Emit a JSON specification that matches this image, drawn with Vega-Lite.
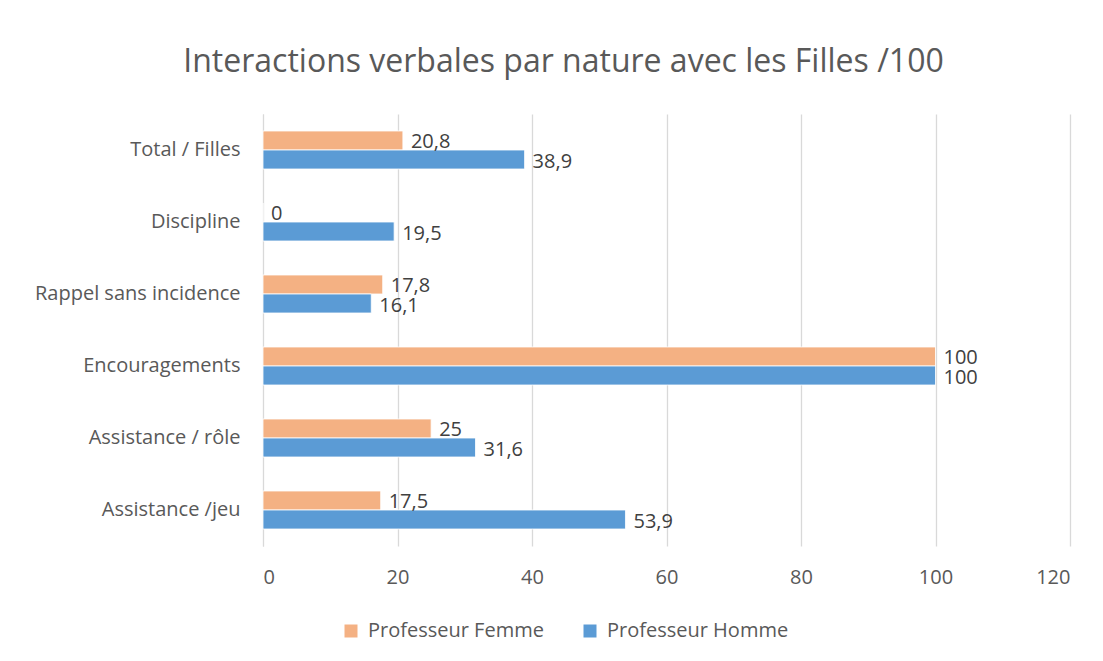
{
  "$schema": "https://vega.github.io/schema/vega-lite/v6.json",
  "width": 807,
  "height": 432,
  "autosize": {"type": "none"},
  "padding": {"left": 263, "top": 114, "right": 33, "bottom": 115},
  "background": "white",
  "title": {
    "text": "Interactions verbales par nature avec les Filles /100",
    "font": "Open Sans",
    "fontSize": 32,
    "fontWeight": "normal",
    "color": "#595959",
    "anchor": "middle",
    "dx": -103,
    "offset": 35
  },
  "data": {
    "values": [
      {"categorie": "Total / Filles", "serie": "Professeur Femme", "valeur": 20.8},
      {"categorie": "Total / Filles", "serie": "Professeur Homme", "valeur": 38.9},
      {"categorie": "Discipline", "serie": "Professeur Femme", "valeur": 0},
      {"categorie": "Discipline", "serie": "Professeur Homme", "valeur": 19.5},
      {"categorie": "Rappel sans incidence", "serie": "Professeur Femme", "valeur": 17.8},
      {"categorie": "Rappel sans incidence", "serie": "Professeur Homme", "valeur": 16.1},
      {"categorie": "Encouragements", "serie": "Professeur Femme", "valeur": 100},
      {"categorie": "Encouragements", "serie": "Professeur Homme", "valeur": 100},
      {"categorie": "Assistance / rôle", "serie": "Professeur Femme", "valeur": 25},
      {"categorie": "Assistance / rôle", "serie": "Professeur Homme", "valeur": 31.6},
      {"categorie": "Assistance /jeu", "serie": "Professeur Femme", "valeur": 17.5},
      {"categorie": "Assistance /jeu", "serie": "Professeur Homme", "valeur": 53.9}
    ]
  },
  "encoding": {
    "y": {
      "field": "categorie",
      "type": "nominal",
      "sort": ["Total / Filles", "Discipline", "Rappel sans incidence", "Encouragements", "Assistance / rôle", "Assistance /jeu"],
      "scale": {"paddingInner": 0.472, "paddingOuter": 0.236},
      "axis": {
        "title": null,
        "ticks": false,
        "domain": true,
        "domainColor": "#D9D9D9",
        "domainWidth": 1,
        "labelFont": "Open Sans",
        "labelFontSize": 20,
        "labelColor": "#595959",
        "labelPadding": 23,
        "labelLimit": 300
      }
    },
    "yOffset": {
      "field": "serie",
      "type": "nominal",
      "sort": ["Professeur Femme", "Professeur Homme"],
      "scale": {"paddingInner": 0, "paddingOuter": 0}
    },
    "x": {
      "field": "valeur",
      "type": "quantitative",
      "scale": {"domain": [0, 120], "nice": false},
      "axis": {
        "title": null,
        "values": [0, 20, 40, 60, 80, 100, 120],
        "ticks": false,
        "domain": false,
        "grid": true,
        "gridColor": "#D9D9D9",
        "gridWidth": 1.3,
        "labelFont": "Open Sans",
        "labelFontSize": 20,
        "labelColor": "#595959",
        "labelPadding": 21
      }
    }
  },
  "layer": [
    {
      "mark": {"type": "bar", "stroke": "white", "strokeWidth": 0.8},
      "encoding": {
        "color": {
          "field": "serie",
          "type": "nominal",
          "sort": ["Professeur Femme", "Professeur Homme"],
          "scale": {"domain": ["Professeur Femme", "Professeur Homme"], "range": ["#F4B183", "#5B9BD5"]},
          "legend": {
            "title": null,
            "orient": "none",
            "direction": "horizontal",
            "legendX": 78,
            "legendY": 507,
            "symbolType": "square",
            "symbolSize": 169,
            "symbolStrokeWidth": 0,
            "labelFont": "Open Sans",
            "labelFontSize": 20,
            "labelColor": "#595959",
            "labelOffset": 7,
            "columnPadding": 36,
            "labelLimit": 300
          }
        }
      }
    },
    {
      "mark": {"type": "text", "align": "left", "baseline": "middle", "dx": 8, "dy": 2, "font": "Open Sans", "fontSize": 20, "color": "#404040"},
      "encoding": {
        "text": {"field": "valeur", "type": "quantitative", "format": "~g"}
      }
    }
  ],
  "config": {
    "view": {"stroke": null},
    "locale": {
      "number": {"decimal": ",", "thousands": " ", "grouping": [3], "currency": ["", " €"]}
    }
  }
}
